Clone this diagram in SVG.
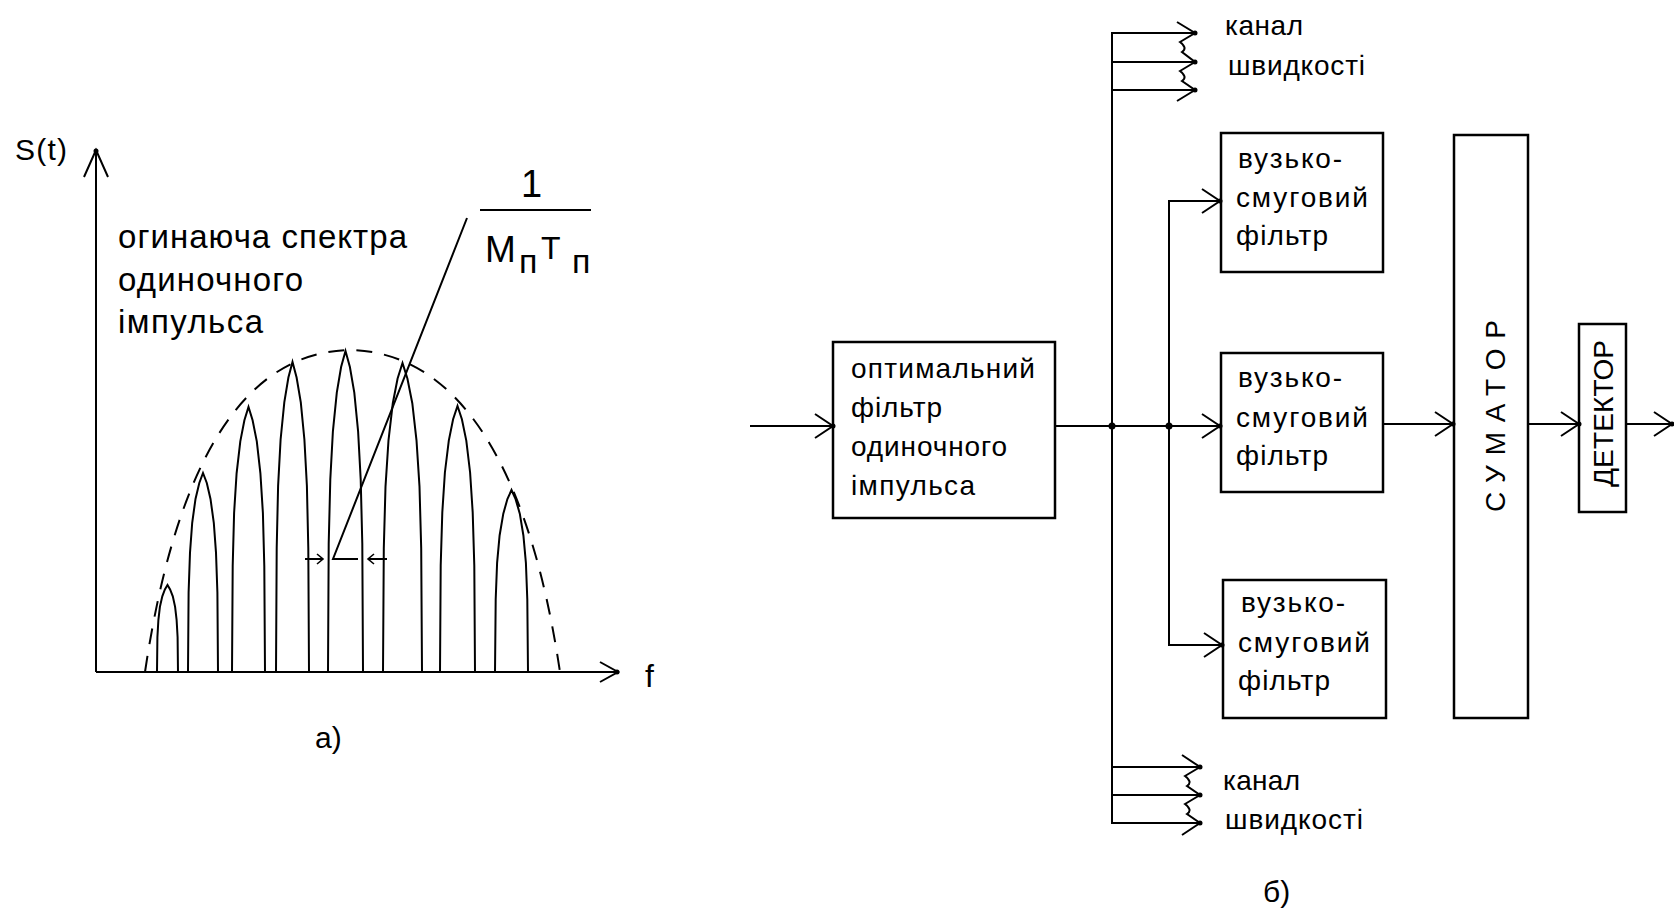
<svg xmlns="http://www.w3.org/2000/svg" width="1674" height="909" viewBox="0 0 1674 909">
<defs>
<style>
.t{font-family:"Liberation Sans",Arial,sans-serif;fill:#000}
.b{font-size:28px}
.l{font-size:33px}
.ln{stroke:#000;stroke-width:2;fill:none}
.bx{stroke:#000;stroke-width:2.5;fill:none}
.pk{stroke:#000;stroke-width:2;fill:none;stroke-linejoin:miter}
.env{stroke:#000;stroke-width:2;fill:none;stroke-dasharray:16 12}
</style>
<marker id="ah" markerUnits="userSpaceOnUse" viewBox="-20 -14 24 28" markerWidth="24" markerHeight="28" refX="0" refY="0" orient="auto" overflow="visible">
<path d="M-18,-12 L0,0 L-18,12" stroke="#000" stroke-width="2" fill="none"/>
<circle cx="0" cy="0" r="2.5" fill="#000"/>
</marker>
<marker id="sa" markerUnits="userSpaceOnUse" viewBox="-8 -6 10 12" markerWidth="10" markerHeight="12" refX="0" refY="0" orient="auto" overflow="visible">
<path d="M-6,-5 L0,0 L-6,5" stroke="#000" stroke-width="1.6" fill="none"/>
</marker>
</defs>
<rect x="0" y="0" width="1674" height="909" fill="#fff"/>

<!-- Panel a: spectrum -->
<g id="spectrum">
<path class="ln" d="M96,672 V150 M84,177 L96,150 L108,177"/>
<circle cx="96" cy="151" r="2.5" fill="#000"/>
<path class="ln" d="M96,672 H618 M600,662 L618,672 L600,682"/>
<circle cx="617" cy="672" r="2.5" fill="#000"/>
<path class="env" d="M145,672 C175,470 240,352 350,350 C460,352 530,470 560,672"/>
<polyline class="pk" points="157,672 157.4,637.2 158.4,619.8 159.9,606.8 162.3,596.3 164.9,589.4 167.5,585 170.1,589.4 172.8,596.3 175.1,606.8 176.6,619.8 177.6,637.2 178,672"/>
<polyline class="pk" points="188,672 188.6,592.4 190,552.6 192.2,522.8 195.5,498.9 199.3,483 203,473 206.8,483 210.5,498.9 213.8,522.8 216,552.6 217.4,592.4 218,672"/>
<polyline class="pk" points="232,672 232.7,566 234.1,513 236.6,473.3 240.3,441.4 244.4,420.3 248.5,407 252.6,420.3 256.8,441.4 260.4,473.3 262.9,513 264.3,566 265,672"/>
<polyline class="pk" points="276,672 276.7,548 278.1,486 280.6,439.5 284.3,402.3 288.4,377.5 292.5,362 296.6,377.5 300.8,402.3 304.4,439.5 306.9,486 308.3,548 309,672"/>
<polyline class="pk" points="328,672 328.7,543.6 330.3,479.4 332.9,431.3 336.8,392.7 341.1,367 345.5,351 349.9,367 354.3,392.7 358.1,431.3 360.7,479.4 362.3,543.6 363,672"/>
<polyline class="pk" points="383,672 383.8,548.4 385.5,486.6 388.5,440.3 392.8,403.2 397.6,378.5 402.5,363 407.4,378.5 412.3,403.2 416.5,440.3 419.5,486.6 421.2,548.4 422,672"/>
<polyline class="pk" points="440,672 440.7,565.6 442.3,512.4 444.9,472.5 448.8,440.6 453.1,419.3 457.5,406 461.9,419.3 466.3,440.6 470.1,472.5 472.7,512.4 474.3,565.6 475,672"/>
<polyline class="pk" points="495,672 495.7,599.2 497.1,562.8 499.6,535.5 503.3,513.7 507.4,499.1 511.5,490 515.6,499.1 519.8,513.7 523.4,535.5 525.9,562.8 527.3,599.2 528,672"/>
<path class="ln" d="M467,218 L333,559 H358"/>
<line class="ln" x1="305" y1="559" x2="323" y2="559" marker-end="url(#sa)"/>
<line class="ln" x1="387" y1="559" x2="368" y2="559" marker-end="url(#sa)"/>
<line class="ln" x1="480" y1="210" x2="591" y2="210"/>
<text class="t" x="15" y="160" font-size="30" textLength="52">S(t)</text>
<text class="t l" x="118" y="248" textLength="289">огинаюча спектра</text>
<text class="t l" x="118" y="291" textLength="185">одиночного</text>
<text class="t l" x="118" y="333" textLength="145">імпульса</text>
<text class="t" x="521" y="197" font-size="38">1</text>
<text class="t" x="485" y="262" font-size="37">M<tspan font-size="34" x="519" y="273">п</tspan><tspan font-size="32" x="541" y="259">T</tspan><tspan font-size="34" x="572" y="273">п</tspan></text>
<text class="t" x="645" y="687" font-size="32">f</text>
<text class="t" x="315" y="748" font-size="30">а)</text>
</g>

<!-- Panel b: block diagram -->
<g id="connectors">
<line class="ln" x1="750" y1="426" x2="833" y2="426" marker-end="url(#ah)"/>
<line class="ln" x1="1055" y1="426" x2="1220" y2="426" marker-end="url(#ah)"/>
<circle cx="1112" cy="426" r="3.5" fill="#000"/>
<circle cx="1169" cy="426" r="3.5" fill="#000"/>
<line class="ln" x1="1112" y1="33" x2="1112" y2="823"/>
<line class="ln" x1="1169" y1="201" x2="1169" y2="645"/>
<line class="ln" x1="1168" y1="201" x2="1220" y2="201" marker-end="url(#ah)"/>
<line class="ln" x1="1168" y1="645" x2="1222" y2="645" marker-end="url(#ah)"/>
<path class="ln" d="M1111,33 H1195 M1111,62 H1195 M1111,90 H1195"/>
<path class="ln" d="M1177,22 L1195,33 L1180,42 Q1188,48 1182,52 L1195,62 L1180,71 Q1188,77 1182,81 L1195,90 L1177,101"/>
<circle cx="1195" cy="33" r="2.5" fill="#000"/>
<circle cx="1195" cy="62" r="2.5" fill="#000"/>
<circle cx="1195" cy="90" r="2.5" fill="#000"/>
<path class="ln" d="M1111,767 H1200 M1111,795 H1200 M1111,823 H1200"/>
<path class="ln" d="M1182,755 L1200,767 L1185,776 Q1193,782 1187,786 L1200,795 L1185,804 Q1193,810 1187,814 L1200,823 L1182,835"/>
<circle cx="1200" cy="767" r="2.5" fill="#000"/>
<circle cx="1200" cy="795" r="2.5" fill="#000"/>
<circle cx="1200" cy="823" r="2.5" fill="#000"/>
<line class="ln" x1="1383" y1="424" x2="1453" y2="424" marker-end="url(#ah)"/>
<line class="ln" x1="1528" y1="424" x2="1579" y2="424" marker-end="url(#ah)"/>
<line class="ln" x1="1626" y1="424" x2="1672" y2="424" marker-end="url(#ah)"/>
</g>

<g id="optimal-filter">
<rect class="bx" x="833" y="342" width="222" height="176"/>
<text class="t b" x="851" y="378" textLength="184">оптимальний</text>
<text class="t b" x="851" y="417" textLength="91">фільтр</text>
<text class="t b" x="851" y="456" textLength="156">одиночного</text>
<text class="t b" x="851" y="495" textLength="124">імпульса</text>
</g>

<g id="nb-filter-1">
<rect class="bx" x="1221" y="133" width="162" height="139"/>
<text class="t b" x="1238" y="168" textLength="104">вузько-</text>
<text class="t b" x="1236" y="207" textLength="132">смуговий</text>
<text class="t b" x="1236" y="245" textLength="92">фільтр</text>
</g>

<g id="nb-filter-2">
<rect class="bx" x="1221" y="353" width="162" height="139"/>
<text class="t b" x="1238" y="387" textLength="104">вузько-</text>
<text class="t b" x="1236" y="427" textLength="132">смуговий</text>
<text class="t b" x="1236" y="465" textLength="92">фільтр</text>
</g>

<g id="nb-filter-3">
<rect class="bx" x="1223" y="580" width="163" height="138"/>
<text class="t b" x="1241" y="612" textLength="104">вузько-</text>
<text class="t b" x="1238" y="652" textLength="132">смуговий</text>
<text class="t b" x="1238" y="690" textLength="92">фільтр</text>
</g>

<g id="summator">
<rect class="bx" x="1454" y="135" width="74" height="583"/>
<text class="t b" transform="translate(1505,512) rotate(-90)" textLength="192">СУМАТОР</text>
</g>

<g id="detector">
<rect class="bx" x="1579" y="324" width="47" height="188"/>
<text class="t b" transform="translate(1613,487) rotate(-90)" textLength="147">ДЕТЕКТОР</text>
</g>

<g id="labels">
<text class="t b" x="1225" y="35" textLength="78">канал</text>
<text class="t b" x="1228" y="75" textLength="137">швидкості</text>
<text class="t b" x="1223" y="790" textLength="77">канал</text>
<text class="t b" x="1225" y="829" textLength="138">швидкості</text>
<text class="t" x="1263" y="902" font-size="30">б)</text>
</g>
</svg>
